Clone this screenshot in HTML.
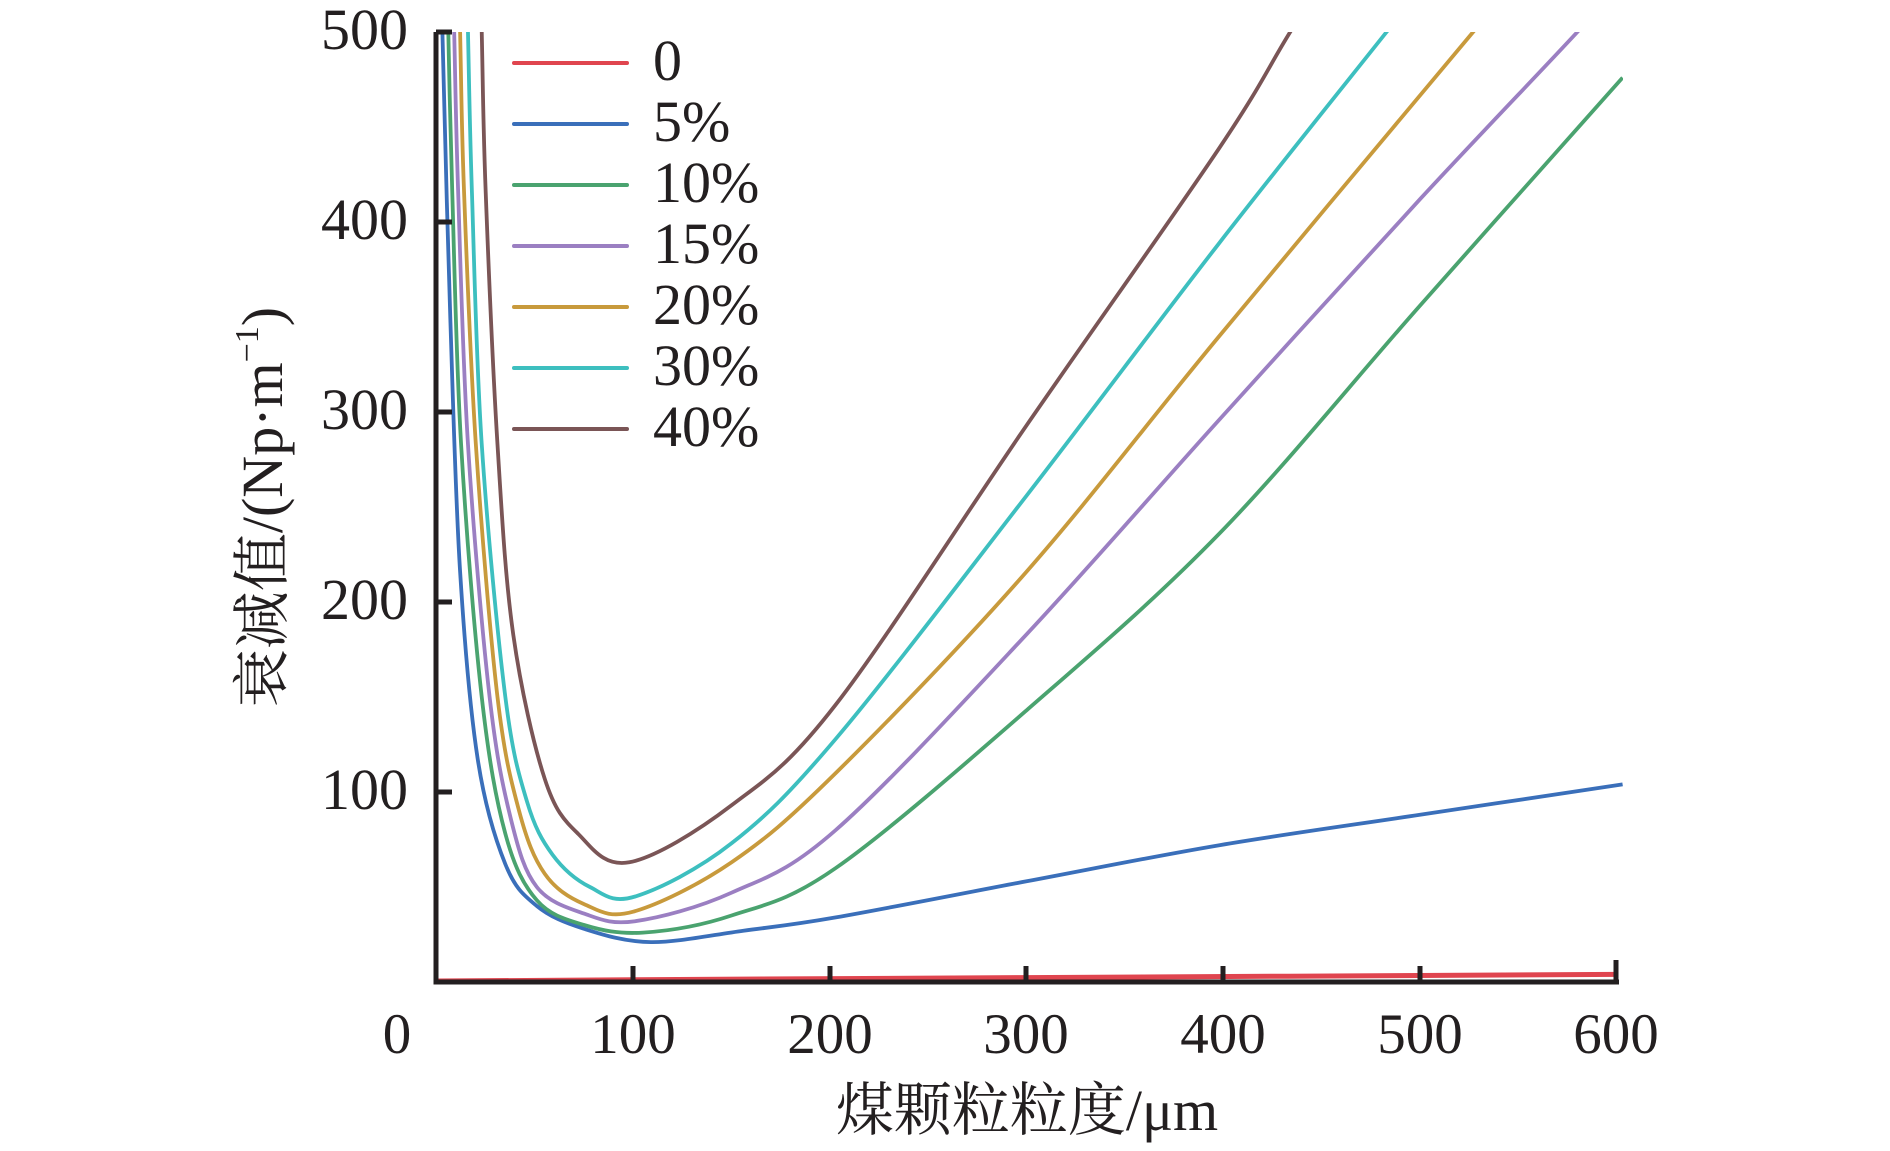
<!DOCTYPE html>
<html><head><meta charset="utf-8"><style>
html,body{margin:0;padding:0;background:#fff;}
svg text{font-family:"Liberation Serif","Noto Serif CJK SC",serif;fill:#231f20;}
</style></head><body>
<svg id="s" width="1890" height="1146" viewBox="0 0 1890 1146" xmlns="http://www.w3.org/2000/svg">
<defs><clipPath id="c"><rect x="438" y="32" width="1185" height="952"/></clipPath></defs>
<g id="curves" clip-path="url(#c)" fill="none" stroke-width="3.8" stroke-linejoin="round"></g>
<g stroke="#231f20" stroke-width="5" fill="none">
<path d="M436,32 V982 H1619"/>
<path d="M436,32 H452 M436,222 H452 M436,412 H452 M436,602 H452 M436,792 H452"/>
<path d="M633,982 V966 M830,982 V966 M1026,982 V966 M1223,982 V966 M1420,982 V966 M1616,982 V960"/>
</g>
<g font-size="58" text-anchor="end">
<text x="408" y="49">500</text><text x="408" y="239">400</text><text x="408" y="429">300</text><text x="408" y="619">200</text><text x="408" y="809">100</text>
</g>
<g font-size="57" text-anchor="middle">
<text x="397" y="1053">0</text><text x="633" y="1053">100</text><text x="830" y="1053">200</text><text x="1026" y="1053">300</text><text x="1223" y="1053">400</text><text x="1420" y="1053">500</text><text x="1616" y="1053">600</text>
</g>
<text x="1027" y="1130" font-size="58" text-anchor="middle">煤颗粒粒度/μm</text>
<text transform="translate(282,507) rotate(-90)" font-size="58" text-anchor="middle">衰减值/(Np·m<tspan font-size="34" dy="-24">−1</tspan><tspan dy="24">)</tspan></text>
<g id="leg" font-size="58"></g>
</svg>
<script>
var X=v=>436.5+v*1.967, Y=v=>982-v*1.9;
var S=[
["#e0454f",[[0,0.5],[100,1.2],[300,2.3],[600,4]]],
["#3a6fba",[[2,560],[3,500],[7,350],[12,216],[21,117],[35,62],[51,40],[75,28],[109,21],[156,27],[203,34],[300,53],[398,72],[500,88],[603,104]]],
["#4aa36f",[[4,600],[6,500],[8,416],[12.5,283],[23,150],[35,78],[51,43],[75,30],[105,26],[150,35],[203,60],[300,143],[398,236],[500,356],[603,476]]],
["#9b7fc2",[[7,600],[9,500],[11,416],[16,283],[27,150],[38,85],[51,50],[75,36],[101,32],[150,47],[203,80],[300,183],[398,296],[500,412],[580,500],[620,546]]],
["#c89a3c",[[10,600],[12,500],[14,416],[20,283],[31,150],[42,90],[55,57],[75,41],[100,37],[150,63],[203,110],[300,216],[398,340],[527,500],[560,540]]],
["#3dbfbf",[[14,600],[16,500],[18,416],[23,283],[35,150],[46,95],[59,67],[78,50],[101,45],[150,73],[203,128],[300,256],[398,389],[483,500],[520,548]]],
["#7a5556",[[21,600],[23,500],[25,416],[31,283],[39,183],[55,107],[72,78],[98,63],[150,93],[203,146],[300,293],[398,439],[434,500],[470,560]]]];
var g=document.getElementById('curves'),ns="http://www.w3.org/2000/svg";
S.forEach(function(s){var p=s[1].map(q=>[X(q[0]),Y(q[1])]);var d="M"+p[0][0]+","+p[0][1];
for(var i=0;i<p.length-1;i++){var p0=p[i-1]||p[i],p1=p[i],p2=p[i+1],p3=p[i+2]||p2;
var c1=[p1[0]+(p2[0]-p0[0])/6,p1[1]+(p2[1]-p0[1])/6],c2=[p2[0]-(p3[0]-p1[0])/6,p2[1]-(p3[1]-p1[1])/6];
d+=" C"+c1+" "+c2+" "+p2;}
var e=document.createElementNS(ns,"path");e.setAttribute("d",d);e.setAttribute("stroke",s[0]);if(s[0]=="#e0454f")e.setAttribute("stroke-width","5");g.appendChild(e);});
var L=document.getElementById('leg'),labs=["0","5%","10%","15%","20%","30%","40%"];
labs.forEach(function(t,i){var y=63+i*61;var l=document.createElementNS(ns,"line");
l.setAttribute("x1",514);l.setAttribute("x2",627);l.setAttribute("y1",y);l.setAttribute("y2",y);l.setAttribute("stroke",S[i][0]);l.setAttribute("stroke-width",4);l.setAttribute("stroke-linecap","round");L.appendChild(l);
var tx=document.createElementNS(ns,"text");tx.setAttribute("x",653);tx.setAttribute("y",y+17);tx.textContent=t;L.appendChild(tx);});
</script>
</body></html>
